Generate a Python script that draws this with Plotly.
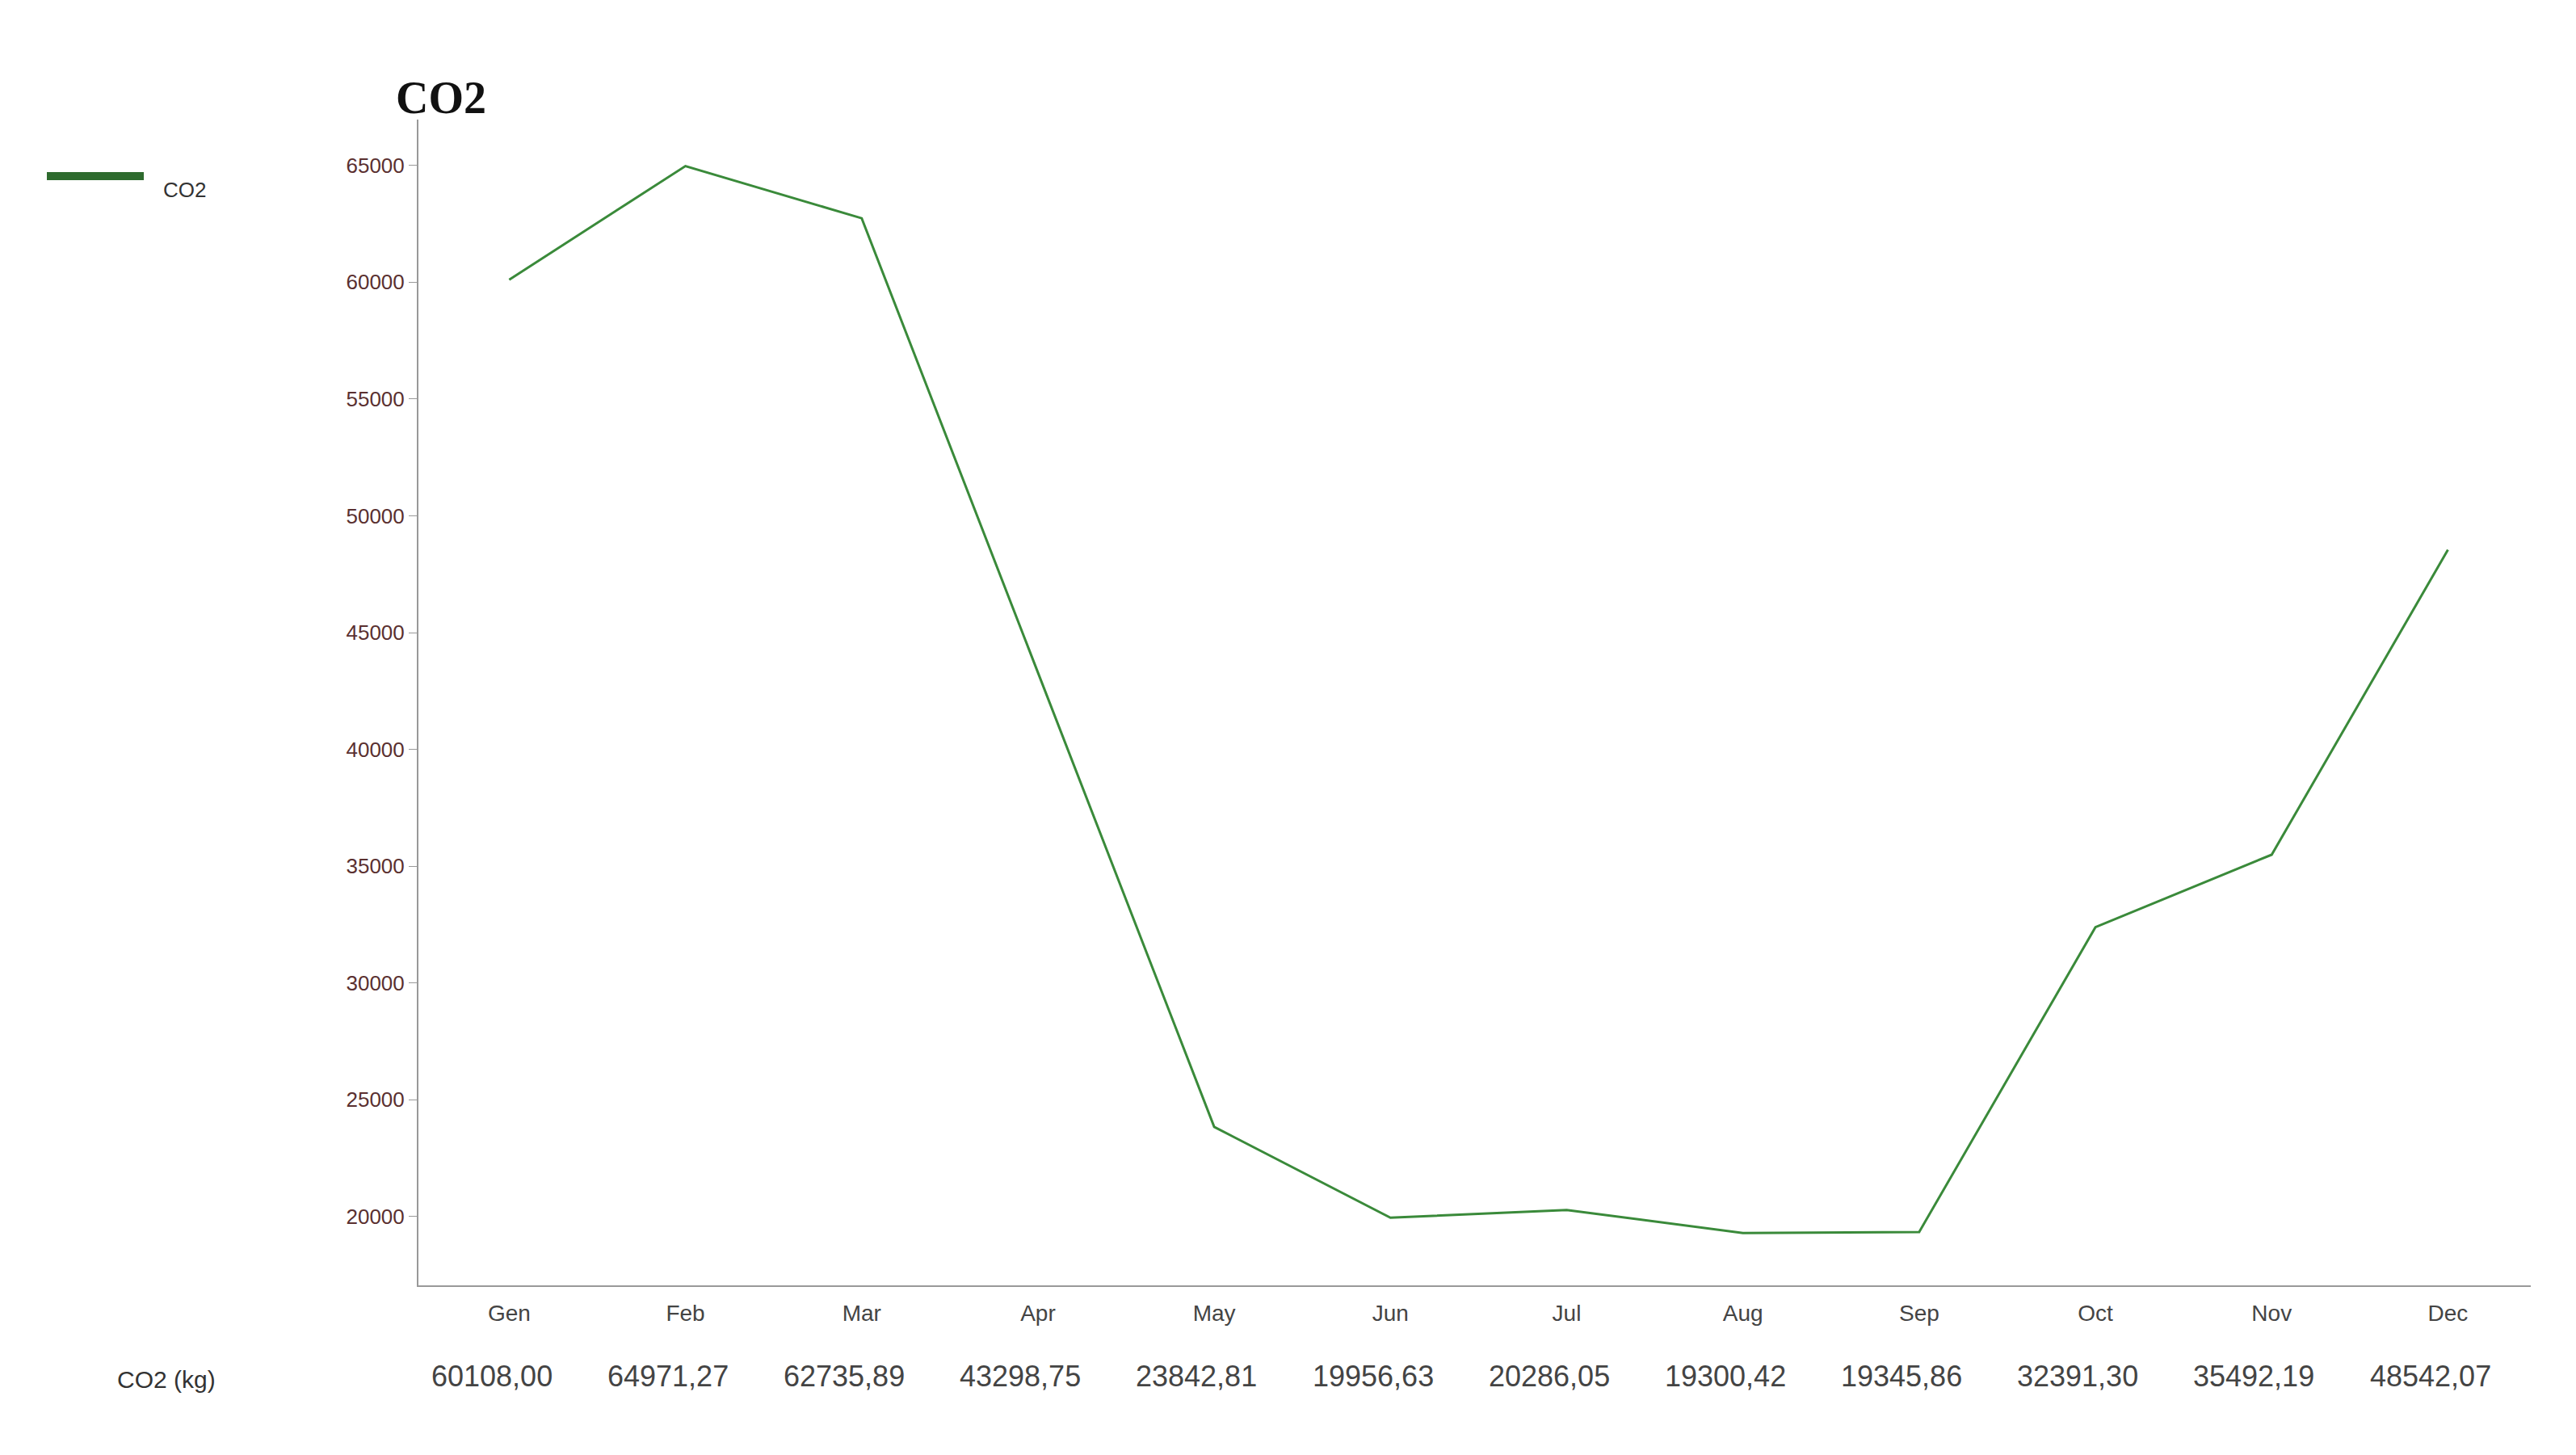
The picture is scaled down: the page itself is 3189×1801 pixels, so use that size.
import plotly.graph_objects as go

months = ["Gen","Feb","Mar","Apr","May","Jun","Jul","Aug","Sep","Oct","Nov","Dec"]
co2 = [60108.00,64971.27,62735.89,43298.75,23842.81,19956.63,20286.05,19300.42,19345.86,32391.30,35492.19,48542.07]
yticks = [20000,25000,30000,35000,40000,45000,50000,55000,60000,65000]

W, H = 3189, 1801
L, R, T, B = 510, 64, 140, 218
fig = go.Figure()
xs = list(range(len(months)))
fig.add_trace(go.Scatter(x=xs, y=co2, mode="lines", name="CO2",
                         line=dict(color="#3a8a3a", width=3), showlegend=False))
fig.update_layout(
    width=W, height=H, plot_bgcolor="white", paper_bgcolor="white",
    margin=dict(l=L, r=R, t=T, b=B),
    xaxis=dict(range=[-0.515, 11.47], tickvals=xs, ticktext=months, showgrid=False,
               showline=True, linecolor="#999", linewidth=2, ticks="", ticklabelstandoff=8,
               tickfont=dict(family="Arial", size=28, color="#444"), zeroline=False),
    yaxis=dict(range=[17060, 66960], tickvals=yticks, ticktext=[str(v) for v in yticks],
               showgrid=False, showline=True,
               linecolor="#999", linewidth=2, ticks="outside", ticklen=10, tickcolor="#999",
               tickfont=dict(family="Arial", size=26, color="#5a3030"), zeroline=False),
)
PW, PH = W - L - R, H - T - B
def px(x): return (x - L) / PW
def py(y): return 1 + (T - y) / PH
fig.add_annotation(text="<b>CO2</b>", xref="paper", yref="paper", x=px(480), y=py(80),
                   xanchor="left", showarrow=False,
                   font=dict(family="Liberation Serif", size=56, color="#111"))
# legend
fig.add_shape(type="line", xref="paper", yref="paper",
              x0=px(50), x1=px(170), y0=py(210), y1=py(210),
              line=dict(color="#2e6b2e", width=10))
fig.add_annotation(text="CO2", xref="paper", yref="paper", x=px(192), y=py(210),
                   xanchor="left", showarrow=False, font=dict(family="Arial", size=26, color="#333"))
# data table row
ytab = py(1718)
fig.add_annotation(text="CO2 (kg)", xref="paper", yref="paper", x=px(135), y=ytab,
                   xanchor="left", showarrow=False, font=dict(family="Arial", size=30, color="#333"))
for i, v in enumerate(co2):
    fig.add_annotation(text=f"{v:.2f}".replace(".", ","), xref="x", yref="paper", x=i-0.1, y=ytab,
                       showarrow=False, font=dict(family="Arial Narrow, Liberation Sans Narrow, Arial", size=36, color="#444"))
fig.write_html("out.html")
